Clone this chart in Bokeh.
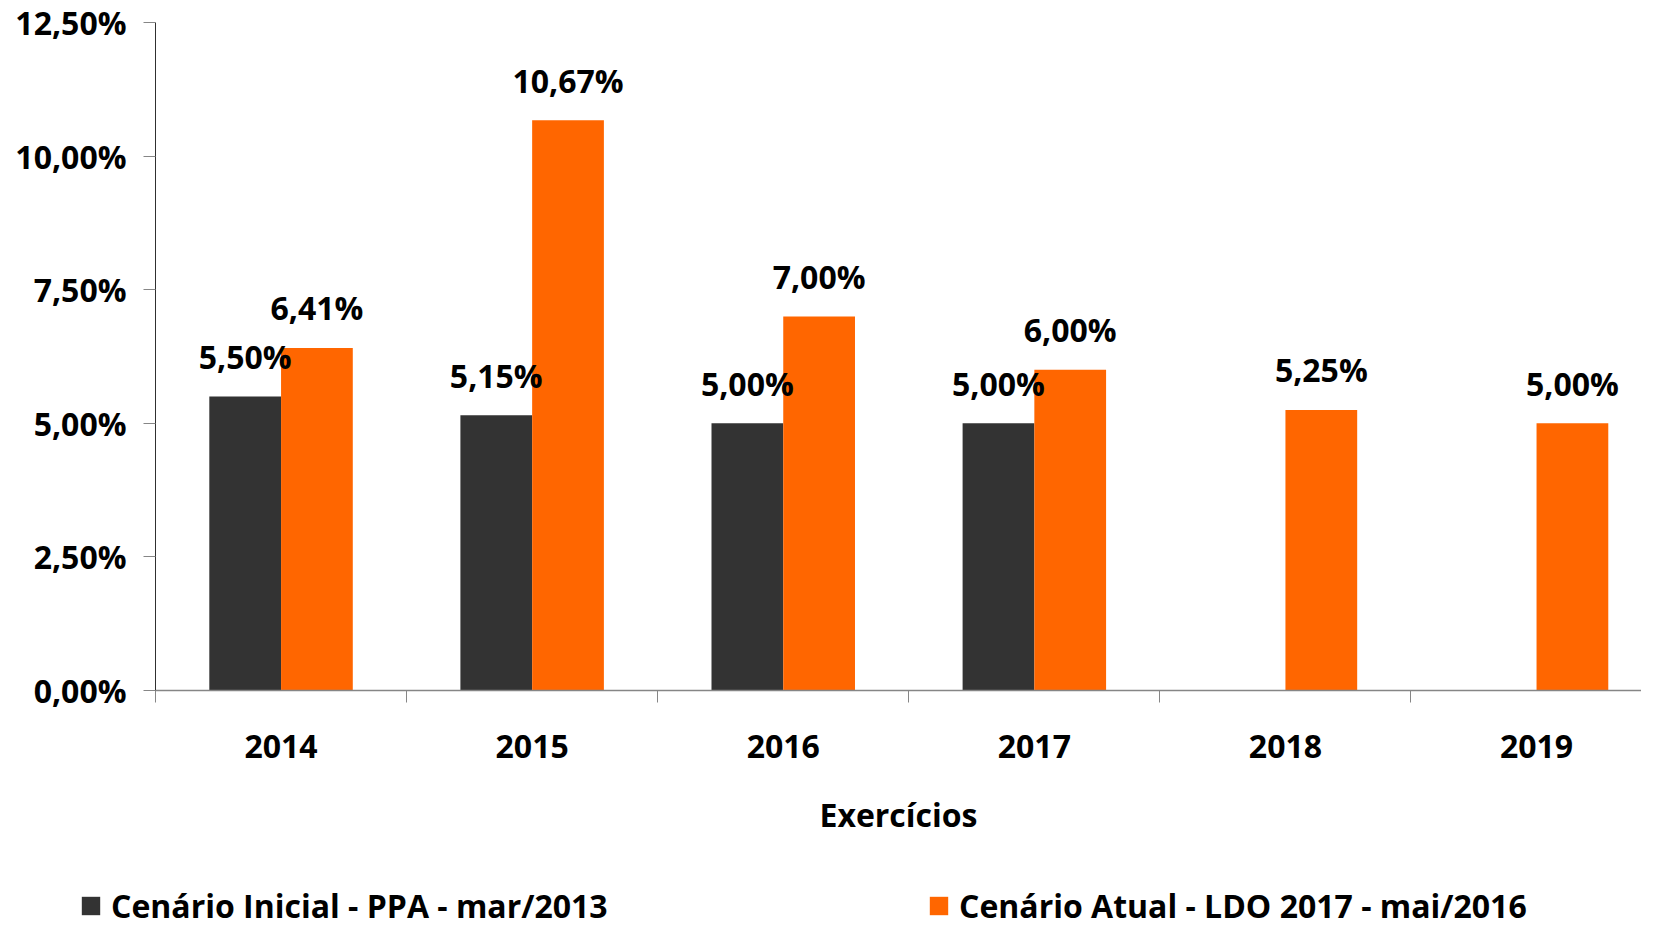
from bokeh.plotting import figure
from bokeh.layouts import column
from bokeh.models import (ColumnDataSource, FixedTicker, CustomJSTickFormatter,
                          Legend, LegendItem, Range1d)
from bokeh.core.properties import value
from bokeh.embed import file_html
from bokeh.resources import INLINE

years = ["2014", "2015", "2016", "2017", "2018", "2019"]
ppa_2013 = [5.50, 5.15, 5.00, 5.00, None, None]
ldo_2017 = [6.41, 10.67, 7.00, 6.00, 5.25, 5.00]
y_ticks = [0.0, 2.5, 5.0, 7.5, 10.0, 12.5]
series_names = ["Cenário Inicial - PPA - mar/2013", "Cenário Atual - LDO 2017 - mai/2016"]
x_title = "Exercícios"

FONT = "Open Sans"
FS = "32px"
DARK = "#333333"
ORANGE = "#FF6600"
AXIS = "#868686"
BW = 1 / 3.5

idx = list(range(len(years)))

def fmt(v):
    return f"{v:.2f}".replace(".", ",") + "%"

dark_src = ColumnDataSource(dict(
    x=[i - BW / 2 for i, v in zip(idx, ppa_2013) if v is not None],
    top=[v for v in ppa_2013 if v is not None],
    label=[fmt(v) for v in ppa_2013 if v is not None],
))
orange_src = ColumnDataSource(dict(
    x=[i + BW / 2 for i in idx],
    top=ldo_2017,
    label=[fmt(v) for v in ldo_2017],
))

p = figure(frame_width=1486, frame_height=668, output_backend="svg", toolbar_location=None,
           x_range=Range1d(-0.5, 5.418), y_range=Range1d(0, 12.5),
           min_border_left=155, min_border_top=22, min_border_right=0,
           min_border_bottom=176)
p.outline_line_color = None
p.xgrid.visible = False
p.ygrid.visible = False
p.background_fill_color = "white"
p.border_fill_color = "white"

p.vbar(x="x", top="top", width=BW, source=dark_src, fill_color=DARK, line_color=None)
p.vbar(x="x", top="top", width=BW, source=orange_src, fill_color=ORANGE, line_color=None)

for src in (dark_src, orange_src):
    p.text(x="x", y="top", text="label", source=src, text_align="center",
           text_baseline="alphabetic", y_offset=-40,
           text_font=value(FONT), text_font_style="bold",
           text_font_size=FS, text_color="black")

# y axis
ya = p.yaxis[0]
ya.ticker = FixedTicker(ticks=y_ticks)
ya.formatter = CustomJSTickFormatter(code="return tick.toFixed(2).replace('.', ',') + '%';")
ya.axis_line_color = "#303030"
ya.major_tick_line_color = AXIS
ya.major_tick_out = 12
ya.major_tick_in = 0
ya.minor_tick_line_color = None
ya.major_label_standoff = 17
ya.major_label_text_font = FONT
ya.major_label_text_font_style = "bold"
ya.major_label_text_font_size = FS
ya.major_label_text_color = "black"

# x axis
xa = p.xaxis[0]
xa.ticker = FixedTicker(ticks=idx, minor_ticks=[i - 0.5 for i in range(len(years) + 1)])
xa.formatter = CustomJSTickFormatter(args=dict(labels=years),
                                     code="return labels[Math.round(tick)];")
xa.axis_line_color = AXIS
xa.axis_line_width = 1.5
xa.major_tick_line_color = None
xa.major_tick_out = 0
xa.major_tick_in = 0
xa.minor_tick_line_color = AXIS
xa.minor_tick_out = 12
xa.minor_tick_in = 0
xa.major_label_standoff = 32
xa.major_label_text_font = FONT
xa.major_label_text_font_style = "bold"
xa.major_label_text_font_size = FS
xa.major_label_text_color = "black"
xa.axis_label = x_title
xa.axis_label_standoff = 32
xa.axis_label_text_font = FONT
xa.axis_label_text_font_style = "bold"
xa.axis_label_text_font_size = FS
xa.axis_label_text_color = "black"

# legend strip (separate small figure so the legend sits inside its own frame)
lf = figure(width=1641, height=58, output_backend="svg", toolbar_location=None,
            x_range=Range1d(100, 101), y_range=Range1d(100, 101),
            x_axis_type=None, y_axis_type=None,
            min_border=0, min_border_left=0, min_border_right=0,
            min_border_top=0, min_border_bottom=0)
lf.outline_line_color = None
lf.xgrid.visible = False
lf.ygrid.visible = False
lf.background_fill_color = "white"
lf.border_fill_color = "white"
lf.title.visible = False

legend_x = 0
label_w = 740
if "frame_align" in lf.properties():
    lf.frame_align = False
    legend_x = 79
    label_w = 816

lr1 = lf.vbar(x="x", top="top", width=BW, source=dark_src, fill_color=DARK, line_color=None)
lr2 = lf.vbar(x="x", top="top", width=BW, source=orange_src, fill_color=ORANGE, line_color=None)

legend = Legend(items=[LegendItem(label=series_names[0], renderers=[lr1]),
                       LegendItem(label=series_names[1], renderers=[lr2])],
                orientation="horizontal", ncols=2, location=(legend_x, -3),
                glyph_width=23, glyph_height=23, label_standoff=9, spacing=0,
                label_width=label_w,
                padding=0, margin=0, border_line_color=None,
                background_fill_alpha=0,
                label_text_font=FONT, label_text_font_style="bold",
                label_text_font_size=FS, label_text_color="black")
lf.add_layout(legend, "center")

layout = column(p, lf, spacing=0)
open("out.html", "w").write(file_html(layout, INLINE))
